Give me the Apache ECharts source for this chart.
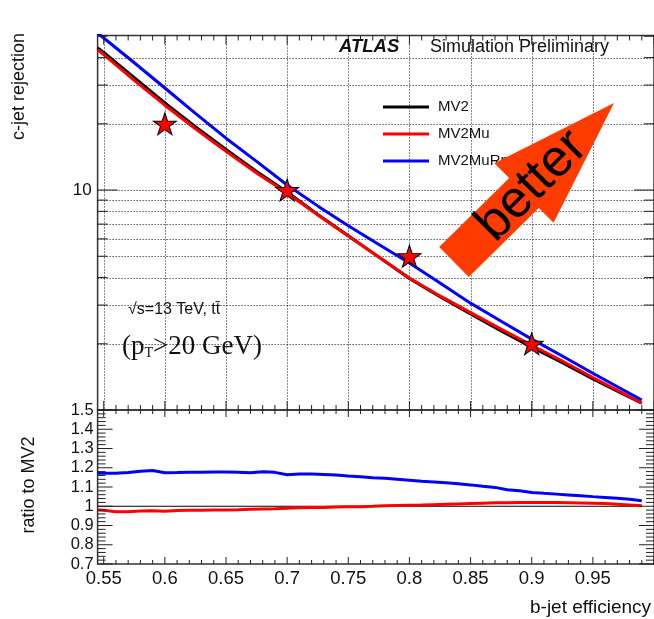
<!DOCTYPE html>
<html><head><meta charset="utf-8">
<script src="https://cdn.jsdelivr.net/npm/echarts@6/dist/echarts.min.js"></script>
<style>html,body{margin:0;padding:0;background:#fff}#c{width:654px;height:619px}</style>
</head><body><div id="c"></div>
<script>
// ---- data ----
const eff = [0.545,0.55,0.575,0.6,0.625,0.65,0.675,0.7,0.725,0.75,0.775,0.8,0.825,0.85,0.875,0.9,0.925,0.95,0.975,0.99];
const rejMV2 = [44.3,42.2,32.4,24.9,19.4,15.3,12.13,9.80,7.75,6.20,4.955,3.96,3.27,2.73,2.29,1.93,1.64,1.383,1.179,1.073];
const rejMV2Mu = [43.5,41.3,31.5,24.3,19.0,15.0,11.95,9.69,7.70,6.18,4.96,3.98,3.30,2.77,2.33,1.97,1.67,1.405,1.19,1.076];
const rejMV2MuRnn = [51.7,49.1,37.9,29.1,22.3,17.2,13.5,10.54,8.47,6.88,5.65,4.66,3.78,3.06,2.53,2.10,1.76,1.47,1.233,1.11];

const starEff = [0.6,0.7,0.8,0.9];
const starRej = [20,10,5,2];

const ratioEff = [0.545,0.55,0.56,0.57,0.58,0.59,0.60,0.61,0.62,0.63,0.64,0.65,0.66,0.67,0.68,0.69,0.70,0.71,0.72,0.73,0.74,0.75,0.76,0.77,0.78,0.79,0.80,0.81,0.82,0.83,0.84,0.85,0.86,0.87,0.88,0.89,0.90,0.91,0.92,0.93,0.94,0.95,0.96,0.97,0.98,0.99];
const ratioMV2MuRnn = [1.172,1.172,1.172,1.175,1.182,1.186,1.174,1.175,1.177,1.177,1.178,1.178,1.176,1.174,1.179,1.176,1.164,1.167,1.168,1.165,1.162,1.157,1.153,1.148,1.145,1.140,1.135,1.130,1.126,1.122,1.117,1.111,1.104,1.098,1.086,1.080,1.072,1.067,1.063,1.059,1.055,1.050,1.046,1.041,1.036,1.029];
const ratioMV2Mu = [0.981,0.979,0.972,0.972,0.975,0.977,0.974,0.978,0.979,0.979,0.980,0.981,0.982,0.984,0.986,0.987,0.989,0.992,0.994,0.994,0.996,0.997,0.998,1.000,1.003,1.004,1.005,1.006,1.008,1.010,1.012,1.014,1.016,1.018,1.018,1.019,1.019,1.019,1.019,1.018,1.017,1.016,1.014,1.011,1.007,1.003];
const ratioMV2Eff = [0.545,0.99];
const ratioMV2 = [1,1];

// ---- ticks / gridlines / labels ----
const xLabels = [0.55,0.6,0.65,0.7,0.75,0.8,0.85,0.9,0.95];
const xMajor = [0.55,0.6,0.65,0.7,0.75,0.8,0.85,0.9,0.95,1.0];
const xMinor = [0.56,0.57,0.58,0.59,0.61,0.62,0.63,0.64,0.66,0.67,0.68,0.69,0.71,0.72,0.73,0.74,0.76,0.77,0.78,0.79,0.81,0.82,0.83,0.84,0.86,0.87,0.88,0.89,0.91,0.92,0.93,0.94,0.96,0.97,0.98,0.99];
const yMainMajor = [1,10];
const yMainMinor = [2,3,4,5,6,7,8,9,20,30,40,50];
const yMainGrid = [2,3,4,5,6,7,8,9,10,20,30,40];
const yRatioMajor = [0.7,0.8,0.9,1.0,1.1,1.2,1.3,1.4,1.5];
const yRatioMinor = [0.72,0.74,0.76,0.78,0.82,0.84,0.86,0.88,0.92,0.94,0.96,0.98,1.02,1.04,1.06,1.08,1.12,1.14,1.16,1.18,1.22,1.24,1.26,1.28,1.32,1.34,1.36,1.38,1.42,1.44,1.46,1.48];

const FONT = 'Liberation Sans';
const pairs = (xs, ys) => xs.map((x, i) => [x, ys[i]]);

function tickSeries(gi, values, dim, len, kind) {
  const refY = gi === 0 ? 2 : 1;
  return {
    type: 'custom', xAxisIndex: gi, yAxisIndex: gi, silent: true,
    z: kind === 'grid' ? 1 : 6,
    data: values.map(v => dim === 'x' ? [v, refY] : [0.6, v]),
    renderItem(params, api) {
      const cs = params.coordSys;
      const p = api.coord([api.value(0), api.value(1)]);
      if (kind === 'grid') {
        const style = {stroke: '#111', lineWidth: 1, lineDash: [1, 2]};
        return dim === 'x'
          ? {type: 'line', shape: {x1: Math.round(p[0]) + 0.5, y1: cs.y, x2: Math.round(p[0]) + 0.5, y2: cs.y + cs.height}, style}
          : {type: 'line', shape: {x1: cs.x, y1: Math.round(p[1]) + 0.5, x2: cs.x + cs.width, y2: Math.round(p[1]) + 0.5}, style};
      }
      const style = {stroke: '#222', lineWidth: 1};
      if (dim === 'x') {
        return {type: 'group', children: [
          {type: 'line', shape: {x1: p[0], y1: cs.y + cs.height, x2: p[0], y2: cs.y + cs.height - len}, style},
          {type: 'line', shape: {x1: p[0], y1: cs.y, x2: p[0], y2: cs.y + len}, style}
        ]};
      }
      return {type: 'group', children: [
        {type: 'line', shape: {x1: cs.x, y1: p[1], x2: cs.x + len, y2: p[1]}, style},
        {type: 'line', shape: {x1: cs.x + cs.width, y1: p[1], x2: cs.x + cs.width - len, y2: p[1]}, style}
      ]};
    }
  };
}

const STAR = 'path://M50,0L61.2,34.5L97.6,34.5L68.2,55.9L79.4,90.5L50,69.1L20.6,90.5L31.8,55.9L2.4,34.5L38.8,34.5Z';

const chart = echarts.init(document.getElementById('c'), null, {renderer: 'canvas'});
const gridBox = {show: true, borderColor: '#333', borderWidth: 1.5, backgroundColor: 'transparent'};

chart.setOption({
  animation: false,
  backgroundColor: '#fff',
  grid: [
    Object.assign({left: 97.6, top: 35.5, width: 557.4, height: 374.5}, gridBox),
    Object.assign({left: 97.6, top: 410, width: 557.4, height: 154}, gridBox)
  ],
  xAxis: [
    {gridIndex: 0, type: 'value', min: 0.545, max: 1.0, axisLine: {show: false}, axisTick: {show: false},
     splitLine: {show: false}, axisLabel: {show: false}},
    {gridIndex: 1, type: 'value', min: 0.545, max: 1.0, axisLine: {show: false}, axisTick: {show: false},
     splitLine: {show: false},
     axisLabel: {customValues: xLabels, fontFamily: FONT, fontSize: 18.5, color: '#111', margin: 5}}
  ],
  yAxis: [
    {gridIndex: 0, type: 'log', logBase: 10, min: 1, max: 50.4, axisLine: {show: false}, axisTick: {show: false},
     splitLine: {show: false},
     axisLabel: {fontFamily: FONT, fontSize: 17, color: '#111', margin: 6,
       formatter: v => Math.abs(v - 10) < 1e-6 ? '10' : ''}},
    {gridIndex: 1, type: 'value', min: 0.7, max: 1.5, interval: 0.1, axisLine: {show: false}, axisTick: {show: false},
     splitLine: {show: false},
     axisLabel: {fontFamily: FONT, fontSize: 16.5, color: '#111', margin: 4}}
  ],
  legend: {
    data: ['MV2', 'MV2Mu', 'MV2MuRnn'], orient: 'vertical', left: 383, top: 99.5, padding: 0,
    icon: 'rect', itemWidth: 46, itemHeight: 3, itemGap: 12, selectedMode: false,
    textStyle: {fontFamily: FONT, fontSize: 15, color: '#111', lineHeight: 15, padding: [0, 0, 0, 4]}
  },
  series: [
    tickSeries(0, xMajor, 'x', 0, 'grid'),
    tickSeries(0, yMainGrid, 'y', 0, 'grid'),
    tickSeries(0, xMajor, 'x', 9, 'tick'),
    tickSeries(0, xMinor, 'x', 5, 'tick'),
    tickSeries(0, yMainMajor, 'y', 20, 'tick'),
    tickSeries(0, yMainMinor, 'y', 10, 'tick'),
    tickSeries(1, xMajor, 'x', 7, 'tick'),
    tickSeries(1, xMinor, 'x', 4, 'tick'),
    tickSeries(1, yRatioMajor, 'y', 15, 'tick'),
    tickSeries(1, yRatioMinor, 'y', 8, 'tick'),
    {name: 'MV2', type: 'line', xAxisIndex: 0, yAxisIndex: 0, data: pairs(eff, rejMV2), showSymbol: false,
     color: '#000', lineStyle: {color: '#000', width: 3}, z: 2},
    {name: 'MV2Mu', type: 'line', xAxisIndex: 0, yAxisIndex: 0, data: pairs(eff, rejMV2Mu), showSymbol: false,
     color: '#ff0000', lineStyle: {color: '#ff0000', width: 3}, z: 2},
    {name: 'MV2MuRnn', type: 'line', xAxisIndex: 0, yAxisIndex: 0, data: pairs(eff, rejMV2MuRnn), showSymbol: false,
     color: '#0000ff', lineStyle: {color: '#0000ff', width: 3}, z: 2},
    {name: 'WP', type: 'scatter', xAxisIndex: 0, yAxisIndex: 0, data: pairs(starEff, starRej),
     symbol: STAR, symbolSize: [23, 22],
     itemStyle: {color: '#ff0000', borderColor: '#000', borderWidth: 1, opacity: 1}, z: 4},
    {name: 'MV2 ratio', type: 'line', xAxisIndex: 1, yAxisIndex: 1, data: pairs(ratioMV2Eff, ratioMV2), showSymbol: false,
     lineStyle: {color: '#000', width: 1}, z: 2},
    {name: 'MV2Mu ratio', type: 'line', xAxisIndex: 1, yAxisIndex: 1, data: pairs(ratioEff, ratioMV2Mu), showSymbol: false,
     lineStyle: {color: '#ff0000', width: 3}, z: 2},
    {name: 'MV2MuRnn ratio', type: 'line', xAxisIndex: 1, yAxisIndex: 1, data: pairs(ratioEff, ratioMV2MuRnn), showSymbol: false,
     lineStyle: {color: '#0000ff', width: 3}, z: 2}
  ],
  graphic: [
    {type: 'polygon', z: 100, shape: {points: [[439.2,247.1],[468.8,276.9],[538.8,207.9],[553.6,222.8],[614,103],[494.4,163.2],[509.2,178.1]]},
     style: {fill: '#ff3b00'}},
    {type: 'text', z: 101, x: 532, y: 186, rotation: Math.PI / 4,
     style: {text: 'better', fontFamily: FONT, fontSize: 52, fill: '#000', align: 'center', verticalAlign: 'middle'}},
    {type: 'text', z: 50, x: 339, y: 47,
     style: {text: 'ATLAS', fontFamily: FONT, fontSize: 18.5, fontWeight: 'bold', fontStyle: 'italic', fill: '#111', verticalAlign: 'middle'}},
    {type: 'text', z: 50, x: 430, y: 47,
     style: {text: 'Simulation Preliminary', fontFamily: FONT, fontSize: 18, fill: '#111', verticalAlign: 'middle'}},
    {type: 'text', z: 50, x: 128, y: 310,
     style: {text: '\u221As=13 TeV, tt\u0304', fontFamily: FONT, fontSize: 16, fill: '#111', verticalAlign: 'middle'}},
    {type: 'text', z: 50, x: 122, y: 347,
     style: {text: '{a|(p}{s|T}{a|>20 GeV)}', verticalAlign: 'middle',
       rich: {a: {fontFamily: 'Liberation Serif', fontSize: 27, fill: '#111', verticalAlign: 'bottom'},
              s: {fontFamily: 'Liberation Serif', fontSize: 14, fill: '#111', verticalAlign: 'bottom'}}}},
    {type: 'text', z: 50, x: 19, y: 33, rotation: Math.PI / 2,
     style: {text: 'c-jet rejection', fontFamily: FONT, fontSize: 18, fill: '#111', align: 'right', verticalAlign: 'middle'}},
    {type: 'text', z: 50, x: 29, y: 485, rotation: Math.PI / 2,
     style: {text: 'ratio to MV2', fontFamily: FONT, fontSize: 18, fill: '#111', align: 'center', verticalAlign: 'middle'}},
    {type: 'text', z: 50, x: 530, y: 608,
     style: {text: 'b-jet efficiency', fontFamily: FONT, fontSize: 19, fill: '#111', verticalAlign: 'middle'}}
  ]
});
</script></body></html>
